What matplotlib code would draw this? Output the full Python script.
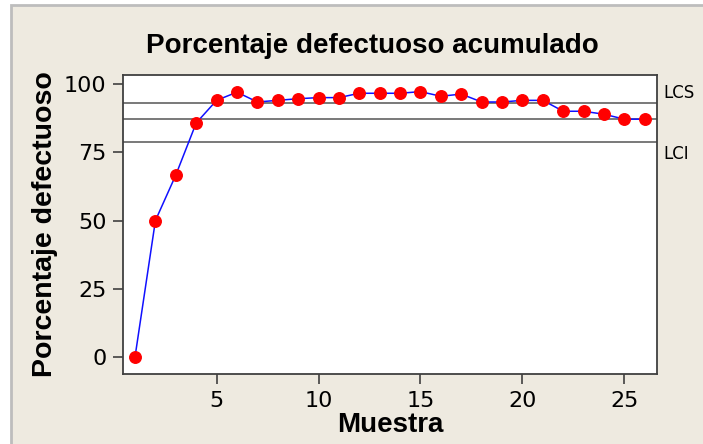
import matplotlib
matplotlib.use("Agg")
import matplotlib.pyplot as plt
import matplotlib.transforms as mtransforms
from matplotlib.patches import Rectangle

# Data
muestra = list(range(1, 27))
porcentaje = [0.0, 50.0, 66.7, 85.8, 94.1, 97.1, 93.5, 94.1, 94.7, 95.1,
              95.1, 96.7, 96.7, 96.7, 97.3, 95.6, 96.4, 93.5, 93.5, 94.1,
              94.1, 90.1, 90.1, 89.0, 87.2, 87.2]
lcs = 93.2
lc = 87.3
lci = 78.9
xticks = [5, 10, 15, 20, 25]
yticks = [0, 25, 50, 75, 100]

bg = "#EEEAE0"

fig = plt.figure(figsize=(7.03, 4.44), dpi=100)
fig.patch.set_facecolor("white")
# beige panel with grey frame
fig.patches.append(Rectangle((10.5 / 703, -0.05), 1, 1.05 - 5.5 / 444, transform=fig.transFigure,
                             facecolor=bg, edgecolor="#BDBDBD", linewidth=2, zorder=-5))

ax = fig.add_axes([123 / 703, 1 - 374 / 444, (657 - 123) / 703, (374 - 75) / 444])
ax.set_facecolor("white")

# control limits and center line
for v in (lcs, lc, lci):
    ax.axhline(v, color="#555555", linewidth=1.1, zorder=1)

ax.plot(muestra, porcentaje, color="#1010FF", linewidth=1.1, zorder=2)
ax.plot(muestra, porcentaje, linestyle="none", marker="o", markersize=8.3,
        color="#FF0000", markeredgecolor="#FF0000", zorder=3)

ax.set_xlim(0.41, 26.6)
ax.set_ylim(-6.3, 103.4)
ax.set_xticks(xticks)
ax.set_yticks(yticks)

for s in ax.spines.values():
    s.set_color("#404040")
    s.set_linewidth(1.3)
ax.tick_params(direction="out", length=7, width=1.2, color="#404040",
               labelsize=16, pad=5)
for lab in ax.get_xticklabels() + ax.get_yticklabels():
    lab.set_family("DejaVu Sans")

# limit labels at the right side
trans = mtransforms.blended_transform_factory(ax.transAxes, ax.transData)
ax.text(1.012, lcs + 0.4, "LCS", transform=trans, ha="left", va="bottom",
        fontsize=12, family="DejaVu Sans")
ax.text(1.012, lci - 1.2, "LCI", transform=trans, ha="left", va="top",
        fontsize=12, family="DejaVu Sans")

fig.text(372 / 703, 1 - 46 / 444, "Porcentaje defectuoso acumulado", ha="center",
         va="center", fontsize=20, fontweight="bold", family="Liberation Sans")
ax.set_xlabel("Muestra", fontsize=20, fontweight="bold", family="Liberation Sans",
              labelpad=1)
ax.set_ylabel("Porcentaje defectuoso", fontsize=20.5, fontweight="bold",
              family="Liberation Sans", labelpad=4)

fig.savefig("out.png", dpi=100, facecolor=fig.get_facecolor())
